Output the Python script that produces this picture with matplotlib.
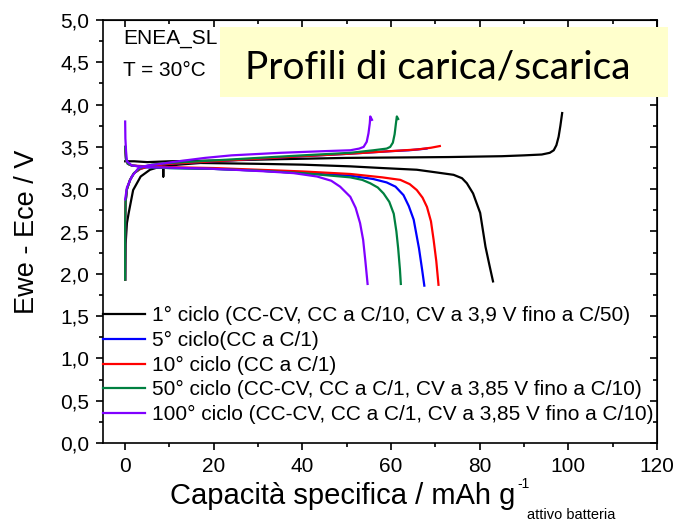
import matplotlib.pyplot as plt
from matplotlib.patches import Rectangle
from matplotlib.ticker import MultipleLocator, FuncFormatter

plt.rcParams['font.family'] = ['Liberation Sans', 'DejaVu Sans']

# 1° ciclo
c1_cap_car = [0, 2, 5, 10, 22, 35, 50, 62, 73, 85, 90, 94, 95.8, 96.7, 97.3, 97.8, 98.2, 98.6]
c1_v_car = [3.33, 3.33, 3.32, 3.33, 3.34, 3.355, 3.37, 3.375, 3.38, 3.39, 3.40, 3.41, 3.43, 3.46, 3.52, 3.62, 3.75, 3.90]
c1_cap_sca = [0, 0.1, 0.4, 0.8, 1.8, 3.5, 5.6, 7.5, 8.6, 8.6, 8.6, 12, 17, 30, 40, 50.8, 58, 65.8, 70, 74.1, 76, 77.1, 78.5, 80.1, 81.3, 82.2, 83.0]
c1_v_sca = [1.93, 2.35, 2.6, 2.72, 2.99, 3.15, 3.23, 3.26, 3.27, 3.15, 3.27, 3.29, 3.31, 3.30, 3.29, 3.27, 3.25, 3.23, 3.20, 3.17, 3.13, 3.07, 2.95, 2.72, 2.32, 2.10, 1.91]

# 5° ciclo
c5_cap_car = [0, 0, 0.1, 0.4, 1.1, 2.0, 3.4, 6, 10, 20, 30, 40, 50.8, 60, 64, 68]
c5_v_car = [1.93, 2.6, 2.85, 3.0, 3.11, 3.19, 3.24, 3.28, 3.30, 3.33, 3.36, 3.39, 3.42, 3.45, 3.46, 3.48]
c5_cap_sca = [0, 0.2, 0.6, 1.5, 5, 10, 20, 30, 40, 50.8, 56, 59, 61, 62.8, 64, 65.1, 66.3, 67.0, 67.5]
c5_v_sca = [3.50, 3.35, 3.30, 3.28, 3.26, 3.25, 3.24, 3.22, 3.19, 3.16, 3.12, 3.08, 3.03, 2.93, 2.80, 2.64, 2.30, 2.05, 1.86]

# 10° ciclo
c10_cap_car = [0, 0, 0.1, 0.4, 1.1, 2.0, 3.4, 6, 10, 20, 30, 40, 50.8, 60, 66, 69, 71]
c10_v_car = [1.93, 2.6, 2.85, 3.0, 3.11, 3.19, 3.24, 3.28, 3.30, 3.33, 3.36, 3.39, 3.42, 3.45, 3.47, 3.49, 3.51]
c10_cap_sca = [0, 0.2, 0.6, 1.5, 5, 10, 20, 30, 40, 50.8, 58, 62.1, 64.2, 65.8, 67.1, 68.1, 69.0, 69.6, 70.2, 70.7]
c10_v_sca = [3.50, 3.35, 3.30, 3.28, 3.27, 3.26, 3.25, 3.23, 3.21, 3.18, 3.14, 3.11, 3.06, 2.99, 2.90, 2.79, 2.62, 2.40, 2.15, 1.87]

# 50° ciclo
c50_cap_car = [0, 0, 0.1, 0.4, 1.1, 2.0, 3.4, 6, 10, 20, 30, 40, 50.8, 56, 59.0, 59.8, 60.4, 60.8, 61.1, 61.3, 61.6]
c50_v_car = [1.93, 2.6, 2.85, 3.0, 3.11, 3.19, 3.25, 3.29, 3.31, 3.34, 3.37, 3.40, 3.43, 3.46, 3.48, 3.50, 3.55, 3.65, 3.78, 3.86, 3.83]
c50_cap_sca = [0, 0.2, 0.6, 1.5, 5, 10, 20, 30, 40, 50.8, 53.5, 55.3, 57, 58.3, 59.6, 60.6, 61.2, 61.6, 62.0, 62.2]
c50_v_sca = [3.50, 3.35, 3.30, 3.28, 3.26, 3.25, 3.24, 3.22, 3.19, 3.14, 3.11, 3.07, 3.02, 2.95, 2.85, 2.71, 2.50, 2.30, 2.05, 1.88]

# 100° ciclo
c100_cap_car = [0, 0.4, 1.5, 3.0, 5, 8, 12, 18, 24, 35, 45, 50.8, 52.8, 53.8, 54.5, 54.9, 55.2, 55.3, 55.7]
c100_v_car = [2.88, 3.02, 3.15, 3.25, 3.28, 3.30, 3.33, 3.37, 3.40, 3.43, 3.45, 3.46, 3.48, 3.50, 3.56, 3.66, 3.78, 3.86, 3.82]
c100_cap_sca = [0, 0.05, 0.2, 0.4, 1.5, 5, 10, 18, 24.4, 32, 38, 43.3, 46.5, 48.5, 50.8, 52.0, 53.0, 53.7, 54.2, 54.7]
c100_v_sca = [3.80, 3.60, 3.45, 3.33, 3.28, 3.26, 3.255, 3.245, 3.23, 3.21, 3.19, 3.15, 3.10, 3.03, 2.91, 2.78, 2.60, 2.40, 2.15, 1.88]

etichette = [
    "1° ciclo (CC-CV, CC a C/10, CV a 3,9 V fino a C/50)",
    "5° ciclo(CC a C/1)",
    "10° ciclo (CC a C/1)",
    "50° ciclo (CC-CV, CC a C/1, CV a 3,85 V fino a C/10)",
    "100° ciclo (CC-CV, CC a C/1, CV a 3,85 V fino a C/10)",
]
colori = ["black", "#0000FF", "#FF0000", "#008040", "#8000FF"]

cicli = [
    (c1_cap_car, c1_v_car, c1_cap_sca, c1_v_sca),
    (c5_cap_car, c5_v_car, c5_cap_sca, c5_v_sca),
    (c10_cap_car, c10_v_car, c10_cap_sca, c10_v_sca),
    (c50_cap_car, c50_v_car, c50_cap_sca, c50_v_sca),
    (c100_cap_car, c100_v_car, c100_cap_sca, c100_v_sca),
]

fig = plt.figure(figsize=(6.77, 5.28), dpi=100)
ax = fig.add_axes([103 / 677, 85 / 528, 554 / 677, 423 / 528])

for (xc, yc, xs, ys), lab, col in zip(cicli, etichette, colori):
    ax.plot(xc, yc, color=col, lw=1.6, label=lab)
    ax.plot(xs, ys, color=col, lw=1.6)

ax.set_xlim(-5, 120)
ax.set_ylim(0, 5)
ax.xaxis.set_major_locator(MultipleLocator(20))
ax.xaxis.set_minor_locator(MultipleLocator(10))
ax.yaxis.set_major_locator(MultipleLocator(0.5))
ax.yaxis.set_minor_locator(MultipleLocator(0.25))
ax.yaxis.set_major_formatter(FuncFormatter(lambda v, p: f"{v:.1f}".replace(".", ",")))
ax.tick_params(which="both", labelsize=15, width=1.2, pad=5)
ax.tick_params(which="major", length=5)
ax.tick_params(which="minor", length=3)
ax.tick_params(axis="both", which="both", direction="out", top=False, right=False)
# tacche interne su lato superiore e destro
ax2 = ax.secondary_xaxis("top")
ax2.xaxis.set_major_locator(MultipleLocator(20))
ax2.xaxis.set_minor_locator(MultipleLocator(10))
ax2.tick_params(which="both", direction="in", labeltop=False, width=1.2)
ax2.tick_params(which="major", length=5)
ax2.tick_params(which="minor", length=3)
ax3 = ax.secondary_yaxis("right")
ax3.yaxis.set_major_locator(MultipleLocator(0.5))
ax3.yaxis.set_minor_locator(MultipleLocator(0.25))
ax3.tick_params(which="both", direction="in", labelright=False, width=1.2)
ax3.tick_params(which="major", length=5)
ax3.tick_params(which="minor", length=3)
for s in ax.spines.values():
    s.set_linewidth(1.2)

ax.set_xlabel("Capacità specifica / mAh g", fontsize=21)
ax.set_ylabel("Ewe - Ece / V", fontsize=19.5)
ax.xaxis.set_label_coords(0.432, -0.093)
ax.yaxis.set_label_coords(-0.114, 0.5)

ax.legend(loc="upper left", bbox_to_anchor=(0, 0.323), frameon=False, fontsize=15,
          handlelength=2.0, handletextpad=0.33, labelspacing=0.27, borderpad=0, borderaxespad=0)

ax.text(-0.45, 4.78, "ENEA_SL", fontsize=15, va="center")
ax.text(-0.45, 4.40, "T = 30°C", fontsize=15, va="center")

# riquadro del titolo
fig.patches.append(Rectangle((220 / 677, 1 - 97 / 528), 448 / 677, 70 / 528,
                             transform=fig.transFigure, facecolor="#FFFFCC", edgecolor="none", zorder=5))
fig.text(438 / 677, 1 - 68 / 528, "Profili di carica/scarica", fontsize=28, family="Lato",
         ha="center", va="center", zorder=6)

# apice e pedice dell'unità di misura, accanto all'etichetta dell'asse x
fig.canvas.draw()
bb = ax.xaxis.label.get_window_extent()
W, H = fig.bbox.width, fig.bbox.height
fig.text((bb.x1 + 2) / W, (bb.y1 + 5) / H, "-1", fontsize=10, ha="left", va="top")
fig.text((bb.x1 + 12) / W, 6 / H, "attivo batteria", fontsize=10.5, ha="left", va="bottom")

plt.savefig("out.png", dpi=100)
